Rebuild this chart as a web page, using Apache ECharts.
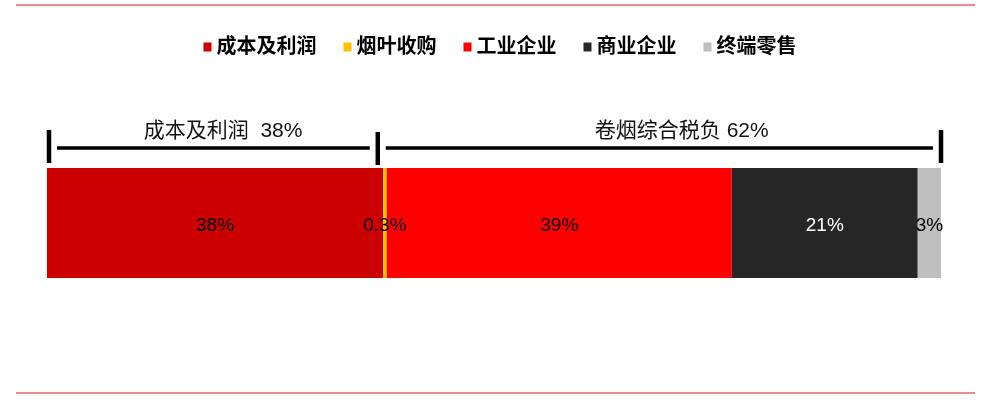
<!DOCTYPE html>
<html>
<head>
<meta charset="utf-8">
<script src="https://cdn.jsdelivr.net/npm/echarts@6/dist/echarts.min.js"></script>
<style>
  html, body { margin: 0; padding: 0; background: #fff; }
  #chart { width: 1000px; height: 401px; }
</style>
</head>
<body>
<div id="chart"></div>
<script>
// segment names + colours
var names = ['成本及利润', '烟叶收购', '工业企业', '商业企业', '终端零售'];
var colors = ['#CC0000', '#FFC000', '#FF0000', '#262626', '#BFBFBF'];
// share of retail price, %
var values = [37.6, 0.4, 38.6, 20.8, 2.6];
var labels = ['38%', '0.3%', '39%', '21%', '3%'];
var labelColors = ['#000', '#000', '#000', '#fff', '#000'];
// brackets above the bar
var bracketText = ['成本及利润  38%', '卷烟综合税负 62%'];
var bracketStops = [0, 37, 100];
var bracketTextAt = [19.7, 71];

var font = 'Liberation Sans, Arial, "Noto Sans CJK SC", sans-serif';
var myChart = echarts.init(document.getElementById('chart'));

var series = [];
for (var i = 0; i < names.length; i++) {
    series.push({
        name: names[i],
        type: 'bar',
        stack: 'total',
        barWidth: '100%',
        data: [values[i]],
        itemStyle: { color: colors[i] },
        label: {
            show: true,
            position: 'inside',
            offset: [0, 3],
            formatter: labels[i],
            color: labelColors[i],
            fontSize: 19,
            fontFamily: font
        }
    });
}

option = {
    animation: false,
    legend: {
        top: 32,
        left: 'center',
        itemWidth: 8,
        itemHeight: 9,
        itemGap: 27,
        icon: 'rect',
        textStyle: { fontSize: 20, color: '#000', fontWeight: 'bold', fontFamily: font },
        data: names
    },
    grid: { left: 47, right: 59, top: 168, height: 110 },
    xAxis: { type: 'value', min: 0, max: 100, show: false },
    yAxis: { type: 'category', data: [''], show: false },
    series: series
};
myChart.setOption(option);

// frame lines + brackets, positioned from the axis
var gfx = [
    { type: 'line', shape: { x1: 16, y1: 5, x2: 975, y2: 5 }, style: { stroke: '#e06666', lineWidth: 1.5 } },
    { type: 'line', shape: { x1: 16, y1: 393, x2: 975, y2: 393 }, style: { stroke: '#e06666', lineWidth: 1.5 } }
];
var toPx = function (v) { return myChart.convertToPixel({ xAxisIndex: 0 }, v); };
var px = bracketStops.map(function (v) { return toPx(v) + (v === 0 ? 2 : 0); });
px.forEach(function (x, k) {
    var y0 = k === 1 ? 132 : 130;
    gfx.push({ type: 'line', shape: { x1: x, y1: y0, x2: x, y2: y0 + 33 }, style: { stroke: '#000', lineWidth: 4.5 } });
});
for (var j = 0; j < bracketText.length; j++) {
    var a = px[j] + 8, b = px[j + 1] - 8;
    gfx.push({ type: 'line', shape: { x1: a, y1: 148, x2: b, y2: 148 }, style: { stroke: '#000', lineWidth: 3.5 } });
    gfx.push({
        type: 'text', x: toPx(bracketTextAt[j]), y: 131,
        style: { text: bracketText[j], fontSize: 21, fill: '#111', fontFamily: font, align: 'center', verticalAlign: 'middle' }
    });
}
myChart.setOption({ graphic: gfx });
</script>
</body>
</html>
